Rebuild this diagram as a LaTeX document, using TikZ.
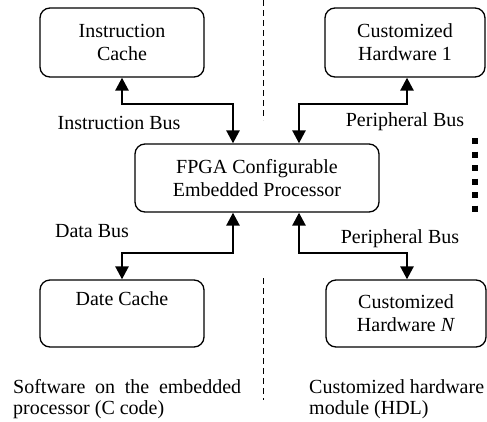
\documentclass[tikz,border=0pt]{standalone}
\usepackage{fontspec}
\setmainfont{Liberation Serif}
\usetikzlibrary{arrows.meta}
\begin{document}
\begin{tikzpicture}[x=1pt,y=-1pt,
  box/.style={draw, line width=1.3pt, rounded corners=10pt, align=center,
    inner sep=0pt, font=\fontsize{20}{23}\selectfont},
  bus/.style={line width=2.6pt,
    {Triangle[width=13pt,length=13pt]}-{Triangle[width=13pt,length=13pt]}},
  lbl/.style={font=\fontsize{20}{23}\selectfont, inner sep=0pt},
  note/.style={font=\fontsize{20}{21}\selectfont, inner sep=0pt, anchor=north west},
  divider/.style={line width=1pt, dash pattern=on 6pt off 4pt}]
\useasboundingbox (0,0) rectangle (487,421);

% processor and attached memories / hardware blocks
\node[box, minimum width=164pt, minimum height=69pt] (icache) at (122,42.5) {Instruction\\Cache};
\node[box, minimum width=160pt, minimum height=69pt] (hw1) at (405,42.5) {Customized\\Hardware 1};
\node[box, minimum width=244pt, minimum height=68pt] (fpga) at (257,178) {FPGA Configurable\\Embedded Processor};
\node[box, minimum width=164pt, minimum height=67pt] (dcache) at (122,313.5) {Date Cache\\\strut};
\node[box, minimum width=160pt, minimum height=67pt] (hwn) at (406,313.5) {Customized\\Hardware \textit{N}};

% bus bends
\coordinate (ib) at (233,104);
\coordinate (pb1) at (299,104);
\coordinate (pb1e) at (407,104);
\coordinate (db) at (233,253);
\coordinate (pbn) at (299,253);
\coordinate (pbne) at (407,253);

% buses
\draw[bus] (icache.south) |- (ib) -- (ib |- fpga.north);
\draw[bus] (pb1 |- fpga.north) -- (pb1) -- (pb1e) -- (pb1e |- hw1.south);
\draw[bus] (db |- fpga.south) -- (db) -| (dcache.north);
\draw[bus] (pbn |- fpga.south) -- (pbn) -- (pbne) -- (pbne |- hwn.north);

% bus labels
\node[lbl] (iblbl) at (119,123) {Instruction Bus};
\node[lbl] (p1lbl) at (405,122) {Peripheral Bus};
\node[lbl] (dblbl) at (92,231) {Data Bus};
\node[lbl] (pnlbl) at (400,239) {Peripheral Bus};

% software / hardware divider
\draw[divider] (263,0) -- (263,120);
\draw[divider] (263,278) -- (263,400);

% more hardware blocks in between
\draw[line width=6pt, dash pattern=on 6pt off 7.5pt] (475,138) -- (475,213);

% partition captions
\node[note, text width=228pt, align=justify] (swnote) at (13,378.8)
  {\hyphenpenalty=10000 Software on the embedded processor (C code)};
\node[note, align=left] (hwnote) at (309,379.5)
  {Customized hardware\\module (HDL)};
\end{tikzpicture}
\end{document}
